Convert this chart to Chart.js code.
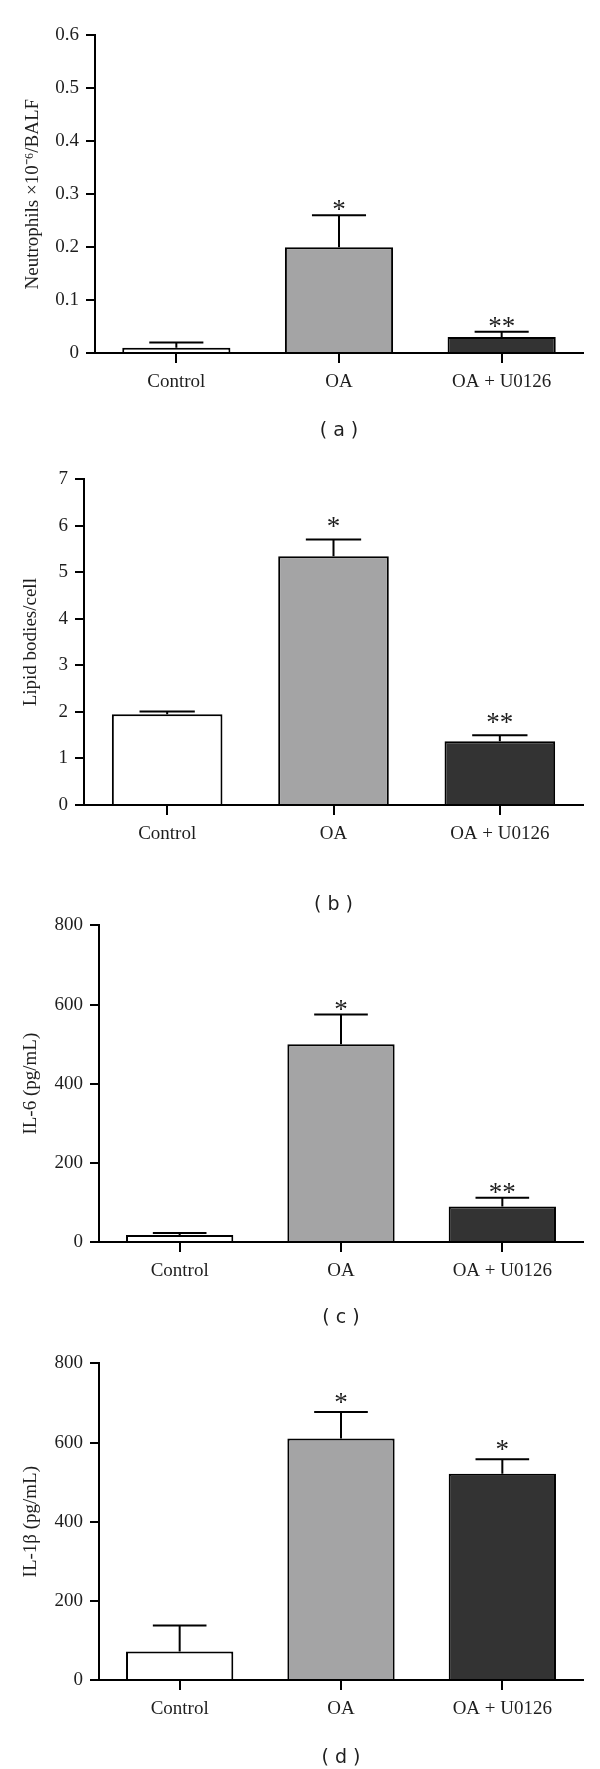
<!DOCTYPE html>
<html>
<head>
<meta charset="utf-8">
<script src="https://cdn.jsdelivr.net/npm/chart.js@4.4.1/dist/chart.umd.min.js"></script>
<style>
  html, body { margin: 0; padding: 0; background: #fff; }
  body { width: 600px; height: 1769px; position: relative; overflow: hidden; }
  .panel { position: absolute; left: 0; width: 600px; }
</style>
</head>
<body>
<div class="panel" id="wa"><canvas id="ca"></canvas></div>
<div class="panel" id="wb"><canvas id="cb"></canvas></div>
<div class="panel" id="wc"><canvas id="cc"></canvas></div>
<div class="panel" id="wd"><canvas id="cd"></canvas></div>
<script>
// ---------- data ----------
const categories = ['Control', 'OA', 'OA + U0126'];

const neutrophils    = [0.01, 0.20, 0.03];
const neutrophilsErr = [0.01, 0.06, 0.01];
const neutrophilsSig = ['', '*', '**'];

const lipidBodies    = [1.95, 5.35, 1.37];
const lipidBodiesErr = [0.06, 0.36, 0.13];
const lipidBodiesSig = ['', '*', '**'];

const il6    = [18, 500, 90];
const il6Err = [5, 75, 22];
const il6Sig = ['', '*', '**'];

const il1b    = [72, 610, 521];
const il1bErr = [66, 67, 37];
const il1bSig = ['', '*', '*'];

const yTitles = ['Neutrophils \u00d710\u207b\u2076/BALF', 'Lipid bodies/cell', 'IL-6 (pg/mL)', 'IL-1\u03b2 (pg/mL)'];
const panelLabels = ['( a )', '( b )', '( c )', '( d )'];
const yMax  = [0.6, 7, 800, 800];
const yStep = [0.1, 1, 200, 200];

// ---------- style / layout ----------
const barColors = ['#ffffff', '#a4a4a5', '#333333'];
const serif = "'Liberation Serif', 'Times New Roman', serif";
const ink = '#1e1e1e';

const layouts = [
  { id: 'a', axisX: 95, maxY: 32,   zeroY: 353,  labelY: 431,  titleX: 33, starGap: 10 },
  { id: 'b', axisX: 84, maxY: 476,  zeroY: 805,  labelY: 905,  titleX: 31, starGap: 17 },
  { id: 'c', axisX: 99, maxY: 922,  zeroY: 1242, labelY: 1318, titleX: 31, starGap: 9 },
  { id: 'd', axisX: 99, maxY: 1360, zeroY: 1680, labelY: 1758, titleX: 31, starGap: 14 }
];

const series = [
  [neutrophils, neutrophilsErr, neutrophilsSig],
  [lipidBodies, lipidBodiesErr, lipidBodiesSig],
  [il6, il6Err, il6Sig],
  [il1b, il1bErr, il1bSig]
];

const starSize = 27;
const errorBarPlugin = {
  id: 'errorBars',
  afterDatasetsDraw(chart, args, opts) {
    const ctx = chart.ctx;
    const meta = chart.getDatasetMeta(0);
    const xs = chart.scales.x, ys = chart.scales.y;
    ctx.save();
    ctx.strokeStyle = '#000';
    ctx.lineWidth = 2;
    opts.values.forEach((v, i) => {
      const x = xs.getPixelForValue(i);
      const yb = ys.getPixelForValue(v);
      const yt = ys.getPixelForValue(v + opts.errors[i]);
      const half = meta.data[i].width / 4;
      ctx.beginPath();
      ctx.moveTo(x, yb);
      ctx.lineTo(x, yt);
      ctx.moveTo(x - half, yt);
      ctx.lineTo(x + half, yt);
      ctx.stroke();
      const s = opts.sig[i];
      if (s) {
        ctx.fillStyle = ink;
        ctx.font = starSize + "px " + serif;
        ctx.textAlign = 'center';
        ctx.textBaseline = 'alphabetic';
        const cy = yt - opts.gap;
        ctx.fillText(s, x, cy + starSize * 0.47);
      }
    });
    ctx.restore();
  }
};

const padTop = 15, padRight = 17, titleSize = 19;
layouts.forEach((L, k) => {
  const [vals, errs, sig] = series[k];
  const top = L.maxY - padTop;
  const bottom = L.labelY + titleSize * 1.2 / 2;
  const H = Math.round(bottom - top);
  const Hx = (top + H) - L.zeroY;
  const wrap = document.getElementById('w' + L.id);
  wrap.style.top = top + 'px';
  wrap.style.height = H + 'px';
  const canvas = document.getElementById('c' + L.id);
  canvas.width = 600; canvas.height = H;
  canvas.style.width = '600px'; canvas.style.height = H + 'px';

  new Chart(canvas, {
    type: 'bar',
    data: {
      labels: categories,
      datasets: [{
        data: vals,
        backgroundColor: barColors,
        borderColor: '#000',
        borderWidth: 2,
        borderSkipped: 'start',
        barPercentage: 0.665,
        categoryPercentage: 1.0
      }]
    },
    options: {
      responsive: false,
      animation: false,
      devicePixelRatio: 1,
      layout: { padding: { top: padTop, right: padRight, bottom: 0, left: 0 } },
      plugins: {
        legend: { display: false },
        tooltip: { enabled: false },
        errorBars: { values: vals, errors: errs, sig: sig, gap: L.starGap }
      },
      scales: {
        x: {
          grid: { display: true, drawOnChartArea: false, drawTicks: true, tickLength: 10, offset: false, color: '#000', lineWidth: 2 },
          border: { display: true, color: '#000', width: 2 },
          ticks: { color: ink, font: { family: serif, size: 19 }, padding: 8, maxRotation: 0 },
          title: { display: true, text: panelLabels[k], color: ink, font: { family: "'DejaVu Sans', sans-serif", size: titleSize }, padding: { top: 0, bottom: 0 } },
          afterFit(scale) { scale.height = Hx; }
        },
        y: {
          min: 0, max: yMax[k],
          grid: { display: true, drawOnChartArea: false, drawTicks: true, tickLength: 9, color: '#000', lineWidth: 2 },
          border: { display: true, color: '#000', width: 2 },
          ticks: { stepSize: yStep[k], color: ink, font: { family: serif, size: 19 }, padding: 7 },
          title: { display: true, text: yTitles[k], color: ink, font: { family: serif, size: 19 }, padding: { top: L.titleX - 11.4, bottom: 0 } },
          afterFit(scale) { scale.width = L.axisX; }
        }
      }
    },
    plugins: [errorBarPlugin]
  });
});
</script>
</body>
</html>
